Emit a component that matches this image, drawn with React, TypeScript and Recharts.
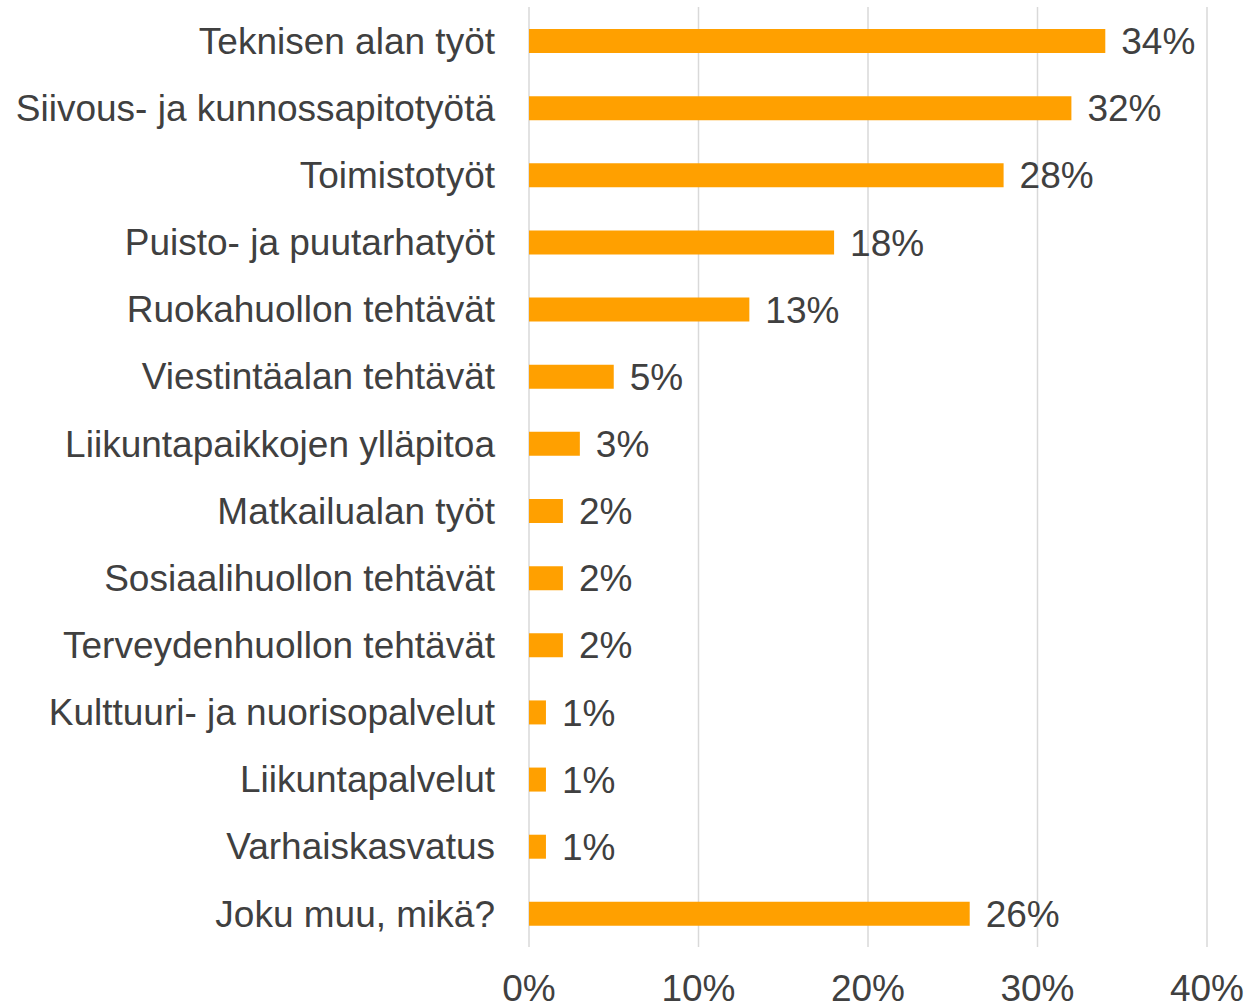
import { Bar, BarChart, CartesianGrid, LabelList, XAxis, YAxis } from 'recharts';

const categories = [
  'Teknisen alan työt',
  'Siivous- ja kunnossapitotyötä',
  'Toimistotyöt',
  'Puisto- ja puutarhatyöt',
  'Ruokahuollon tehtävät',
  'Viestintäalan tehtävät',
  'Liikuntapaikkojen ylläpitoa',
  'Matkailualan työt',
  'Sosiaalihuollon tehtävät',
  'Terveydenhuollon tehtävät',
  'Kulttuuri- ja nuorisopalvelut',
  'Liikuntapalvelut',
  'Varhaiskasvatus',
  'Joku muu, mikä?',
];

const shares = [34, 32, 28, 18, 13, 5, 3, 2, 2, 2, 1, 1, 1, 26];

const xTicks = [0, 10, 20, 30, 40];

const data = categories.map((name, i) => ({ name, value: shares[i] }));

const FONT = '"Liberation Sans", Arial, sans-serif';
const TEXT = '#404040';

const App: React.FC = () => {
  return (
    <div style={{ width: 1248, height: 1008, fontFamily: FONT }}>
      <style>{'body { margin: 0; }'}</style>
      <BarChart
        width={1248}
        height={1008}
        data={data}
        layout="vertical"
        margin={{ top: 7, right: 41, left: 0, bottom: 0 }}
        barCategoryGap={0}
      >
        <CartesianGrid horizontal={false} stroke="#d9d9d9" strokeWidth={1.5} />
        <XAxis
          type="number"
          domain={[0, 40]}
          ticks={xTicks}
          tickFormatter={(v: number) => `${v}%`}
          axisLine={false}
          tickLine={false}
          tickSize={0}
          tickMargin={28}
          height={61}
          interval={0}
          tick={{ fontSize: 37, fill: TEXT, fontFamily: FONT }}
        />
        <YAxis
          type="category"
          dataKey="name"
          width={529}
          axisLine={false}
          tickLine={false}
          tickSize={0}
          tickMargin={34}
          interval={0}
          tick={{ fontSize: 37, fill: TEXT, fontFamily: FONT }}
        />
        <Bar dataKey="value" fill="#FFA000" barSize={24} isAnimationActive={false}>
          <LabelList
            dataKey="value"
            position="right"
            offset={16}
            formatter={(v: number) => `${v}%`}
            style={{ fontSize: 37, fill: TEXT, fontFamily: FONT }}
          />
        </Bar>
      </BarChart>
    </div>
  );
};

export default App;
